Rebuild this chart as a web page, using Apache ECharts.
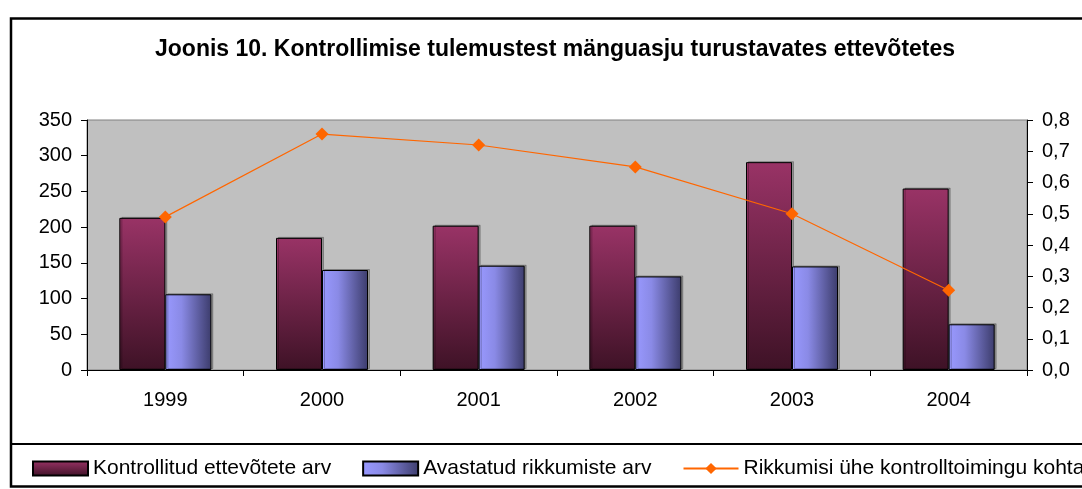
<!DOCTYPE html>
<html>
<head>
<meta charset="utf-8">
<script src="https://cdn.jsdelivr.net/npm/echarts@6/dist/echarts.min.js"></script>
<style>html,body{margin:0;padding:0;background:#fff;}#c{width:1082px;height:489px;}</style>
</head>
<body>
<div id="c"></div>
<script>
const titleText = 'Joonis 10. Kontrollimise tulemustest mänguasju turustavates ettevõtetes';
const years = ['1999', '2000', '2001', '2002', '2003', '2004'];
const seriesNames = ['Kontrollitud ettevõtete arv', 'Avastatud rikkumiste arv', 'Rikkumisi ühe kontrolltoimingu kohta'];
const kontrollitud = [213, 185, 202, 202, 291, 254];
const rikkumised = [106, 140, 146, 131, 145, 64];
const suhe = [0.49, 0.755, 0.72, 0.65, 0.50, 0.255];

const chart = echarts.init(document.getElementById('c'), null, {renderer: 'canvas'});
const font = 'Liberation Sans, Arial, sans-serif';
const maroon = new echarts.graphic.LinearGradient(0, 0, 0, 1, [
  {offset: 0, color: '#993366'}, {offset: 1, color: '#3e1226'}]);
const blue = new echarts.graphic.LinearGradient(0, 0, 1, 0, [
  {offset: 0, color: '#9999ff'}, {offset: 0.35, color: '#8a8ae6'}, {offset: 1, color: '#3c3c6c'}]);

chart.setOption({
  backgroundColor: '#ffffff',
  animation: false,
  title: {
    text: titleText, left: 150, top: 33,
    textStyle: {fontFamily: font, fontSize: 23, fontWeight: 'bold', color: '#000'}
  },
  graphic: [
    {type: 'rect', shape: {x: 11, y: 18.5, width: 1200, height: 468}, style: {fill: 'none', stroke: '#000', lineWidth: 2.5}, silent: true, z: 100},
    {type: 'line', shape: {x1: 11, y1: 444, x2: 1200, y2: 444}, style: {stroke: '#000', lineWidth: 2}, silent: true, z: 100}
  ],
  legend: {
    left: 27, top: 453, width: 2000, itemWidth: 55, itemHeight: 14, itemGap: 31,
    textStyle: {fontFamily: font, fontSize: 21, color: '#000'},
    data: [
      {name: seriesNames[0], icon: 'rect'},
      {name: seriesNames[1], icon: 'rect'},
      {name: seriesNames[2]}
    ]
  },
  grid: {
    left: 87, right: 55, top: 120, bottom: 119, show: true,
    backgroundColor: '#c0c0c0', borderColor: '#808080', borderWidth: 1
  },
  xAxis: {
    type: 'category', data: years,
    axisLine: {lineStyle: {color: '#000', width: 1}},
    axisTick: {show: true, length: 6, lineStyle: {color: '#000'}},
    axisLabel: {fontFamily: font, fontSize: 20, color: '#000', margin: 20}
  },
  yAxis: [
    {
      type: 'value', min: 0, max: 350, interval: 50,
      axisLine: {show: true, lineStyle: {color: '#000'}},
      axisTick: {show: true, length: 6, lineStyle: {color: '#000'}},
      splitLine: {show: false},
      axisLabel: {fontFamily: font, fontSize: 20, color: '#000', margin: 15}
    },
    {
      type: 'value', min: 0, max: 0.8, interval: 0.1, position: 'right',
      axisLine: {show: true, lineStyle: {color: '#000'}},
      axisTick: {show: true, length: 6, lineStyle: {color: '#000'}},
      splitLine: {show: false},
      axisLabel: {fontFamily: font, fontSize: 20, color: '#000', margin: 15,
        formatter: v => v.toFixed(1).replace('.', ',')}
    }
  ],
  series: [
    {
      name: seriesNames[0], type: 'bar', data: kontrollitud, barWidth: 46, barGap: '0%',
      itemStyle: {color: maroon, borderColor: '#000', borderWidth: 1,
        shadowColor: 'rgba(0,0,0,0.25)', shadowOffsetX: 2, shadowOffsetY: -1, shadowBlur: 0}
    },
    {
      name: seriesNames[1], type: 'bar', data: rikkumised, barWidth: 46,
      itemStyle: {color: blue, borderColor: '#000', borderWidth: 1,
        shadowColor: 'rgba(0,0,0,0.25)', shadowOffsetX: 2, shadowOffsetY: -1, shadowBlur: 0}
    },
    {
      name: seriesNames[2], type: 'line', yAxisIndex: 1, data: suhe,
      symbol: 'diamond', symbolSize: 13, z: 5,
      lineStyle: {color: '#ff6600', width: 1.2},
      itemStyle: {color: '#ff6600'}
    }
  ]
});
</script>
</body>
</html>
